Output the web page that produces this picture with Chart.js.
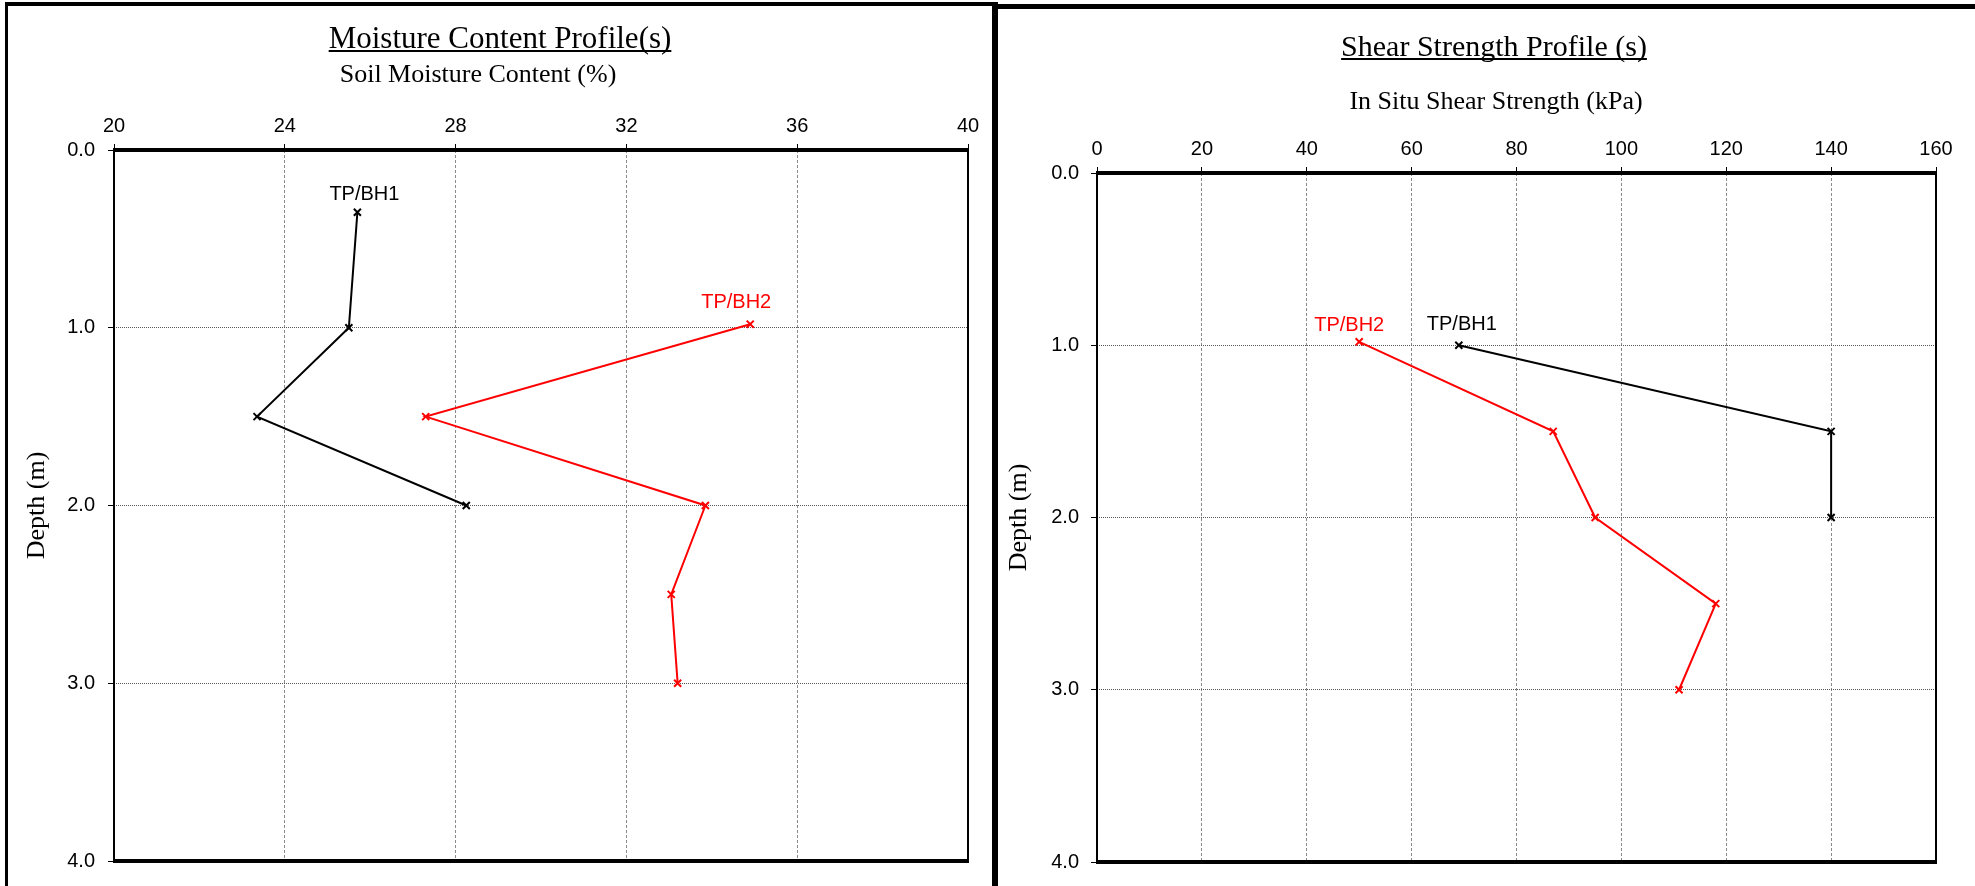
<!DOCTYPE html>
<html>
<head>
<meta charset="utf-8">
<script src="https://cdn.jsdelivr.net/npm/chart.js@4/dist/chart.umd.min.js"></script>
<style>
  html, body { margin: 0; padding: 0; background: #fff; }
  body { width: 1975px; height: 886px; position: relative; overflow: hidden; }
  .panel { position: absolute; top: 0; height: 886px; }
  #p1 { left: 0; width: 992px; }
  #p2 { left: 998px; width: 977px; }
  .panel canvas { display: block; }
  .rule { position: absolute; background: #000; }
</style>
</head>
<body>
<div class="panel" id="p1"><canvas id="moistureChart"></canvas></div>
<div class="panel" id="p2"><canvas id="shearChart"></canvas></div>
<!-- sheet frames -->
<div class="rule" style="left:5px;top:2px;width:3px;height:884px"></div>
<div class="rule" style="left:5px;top:2px;width:990px;height:4px"></div>
<div class="rule" style="left:992px;top:4px;width:983px;height:5px"></div>
<div class="rule" style="left:992px;top:2px;width:6px;height:884px"></div>

<script>
// ---- tick labels ----
const depthTicks = [0, 1, 2, 3, 4];
const moistureTicks = [20, 24, 28, 32, 36, 40];
const shearTicks = [0, 20, 40, 60, 80, 100, 120, 140, 160];

// ---- borehole series ----
const seriesNames = ['TP/BH1', 'TP/BH2'];

// Soil moisture content (%) against depth (m)
const bh1MoistureDepth = [0.35, 1.0, 1.5, 2.0];
const bh1Moisture      = [25.7, 25.5, 23.35, 28.25];
const bh2MoistureDepth = [0.98, 1.5, 2.0, 2.5, 3.0];
const bh2Moisture      = [34.9, 27.3, 33.85, 33.05, 33.2];

// In situ shear strength (kPa) against depth (m)
const bh1ShearDepth = [1.0, 1.5, 2.0];
const bh1Shear      = [69, 140, 140];
const bh2ShearDepth = [0.98, 1.5, 2.0, 2.5, 3.0];
const bh2Shear      = [50, 87, 95, 118, 111];

Chart.defaults.font.family = "'Liberation Sans', Arial, sans-serif";
Chart.defaults.color = '#000';

const pairs = (xs, ys) => xs.map((x, i) => ({ x: x, y: ys[i] }));

// thick frame round the plotting area
const framePlugin = {
  id: 'plotFrame',
  beforeDatasetsDraw(chart) {
    const { ctx, chartArea: a } = chart;
    ctx.save();
    ctx.fillStyle = '#000';
    ctx.fillRect(a.left - 1, a.top - 2, a.right - a.left + 2, 4);
    ctx.fillRect(a.left - 1, a.bottom - 2, a.right - a.left + 2, 4);
    ctx.fillRect(a.left - 1, a.top, 2, a.bottom - a.top);
    ctx.fillRect(a.right - 1, a.top, 2, a.bottom - a.top);
    ctx.restore();
  }
};

// underlined heading plus the axis caption beneath it
const headingPlugin = {
  id: 'heading',
  afterDraw(chart, args, o) {
    const ctx = chart.ctx;
    ctx.save();
    ctx.fillStyle = '#000';
    ctx.textAlign = 'center';
    ctx.textBaseline = 'alphabetic';
    ctx.font = o.titleSize + "px 'Liberation Serif', 'Times New Roman', serif";
    ctx.fillText(o.title, o.titleX, o.titleY);
    const w = ctx.measureText(o.title).width;
    ctx.fillRect(o.titleX - w / 2, o.titleY + 2, w, 2);
    ctx.font = "26px 'Liberation Serif', 'Times New Roman', serif";
    ctx.fillText(o.subtitle, o.subX, o.subY);
    ctx.restore();
  }
};

// series name written next to the first point of each line
const seriesTagPlugin = {
  id: 'seriesTag',
  afterDatasetsDraw(chart) {
    const ctx = chart.ctx;
    ctx.save();
    ctx.font = "20px 'Liberation Sans', Arial, sans-serif";
    ctx.textAlign = 'center';
    ctx.textBaseline = 'alphabetic';
    chart.data.datasets.forEach((ds, i) => {
      const pt = chart.getDatasetMeta(i).data[0];
      if (!pt) return;
      ctx.fillStyle = ds.borderColor;
      ctx.fillText(ds.label, pt.x + ds.tagDx, pt.y + ds.tagDy);
    });
    ctx.restore();
  }
};

function lineSet(name, color, points, dx, dy) {
  return {
    label: name,
    data: points,
    showLine: true,
    borderColor: color,
    backgroundColor: color,
    borderWidth: 2,
    pointStyle: 'crossRot',
    pointRadius: 5,
    pointBorderWidth: 2,
    pointBorderColor: color,
    tension: 0,
    tagDx: dx,
    tagDy: dy
  };
}

function profileChart(canvasId, cfg) {
  return new Chart(document.getElementById(canvasId), {
    type: 'scatter',
    data: { datasets: cfg.datasets },
    options: {
      animation: false,
      responsive: true,
      maintainAspectRatio: false,
      devicePixelRatio: 1,
      events: [],
      layout: { padding: cfg.padding },
      plugins: {
        legend: { display: false },
        tooltip: { enabled: false },
        heading: cfg.heading
      },
      scales: {
        x: {
          type: 'linear',
          position: 'top',
          min: cfg.xTicks[0],
          max: cfg.xTicks[cfg.xTicks.length - 1],
          afterBuildTicks: s => { s.ticks = cfg.xTicks.map(v => ({ value: v })); },
          afterFit: s => { s.height = cfg.xAxisHeight; },
          ticks: {
            padding: 6,
            font: { size: 20 },
            color: '#000',
            callback: v => String(v)
          },
          grid: {
            color: '#8a8a8a',
            lineWidth: 1,
            tickLength: 6,
            tickColor: '#000',
            tickWidth: 1
          },
          border: { display: false, dash: [3, 2] }
        },
        y: {
          type: 'linear',
          reverse: true,
          min: depthTicks[0],
          max: depthTicks[depthTicks.length - 1],
          afterBuildTicks: s => { s.ticks = depthTicks.map(v => ({ value: v })); },
          afterFit: s => { s.width = cfg.yAxisWidth; },
          ticks: {
            padding: cfg.yTickPad,
            font: { size: 20 },
            color: '#000',
            callback: v => Number(v).toFixed(1)
          },
          title: {
            display: true,
            text: 'Depth (m)',
            color: '#000',
            font: { family: "'Liberation Serif', 'Times New Roman', serif", size: 26 },
            padding: { top: cfg.yTitlePad, bottom: 0 }
          },
          grid: {
            color: '#555',
            lineWidth: 1,
            tickLength: 6,
            tickColor: '#000',
            tickWidth: 1
          },
          border: { display: false, dash: [1, 1] }
        }
      }
    },
    plugins: [framePlugin, headingPlugin, seriesTagPlugin]
  });
}

profileChart('moistureChart', {
  xTicks: moistureTicks,
  xAxisHeight: 150,
  yAxisWidth: 114,
  yTickPad: 13,
  yTitlePad: 22,
  padding: { left: 0, top: 0, right: 24, bottom: 24 },
  heading: {
    title: 'Moisture Content Profile(s)', titleSize: 31, titleX: 500, titleY: 48,
    subtitle: 'Soil Moisture Content (%)', subX: 478, subY: 82
  },
  datasets: [
    lineSet(seriesNames[0], '#000000', pairs(bh1Moisture, bh1MoistureDepth), 7, -12),
    lineSet(seriesNames[1], '#ff0000', pairs(bh2Moisture, bh2MoistureDepth), -14, -16)
  ]
});

profileChart('shearChart', {
  xTicks: shearTicks,
  xAxisHeight: 173,
  yAxisWidth: 99,
  yTickPad: 12,
  yTitlePad: 6,
  padding: { left: 0, top: 0, right: 39, bottom: 24 },
  heading: {
    title: 'Shear Strength Profile (s)', titleSize: 30, titleX: 496, titleY: 56,
    subtitle: 'In Situ Shear Strength (kPa)', subX: 498, subY: 109
  },
  datasets: [
    lineSet(seriesNames[0], '#000000', pairs(bh1Shear, bh1ShearDepth), 3, -15),
    lineSet(seriesNames[1], '#ff0000', pairs(bh2Shear, bh2ShearDepth), -10, -11)
  ]
});
</script>
</body>
</html>
